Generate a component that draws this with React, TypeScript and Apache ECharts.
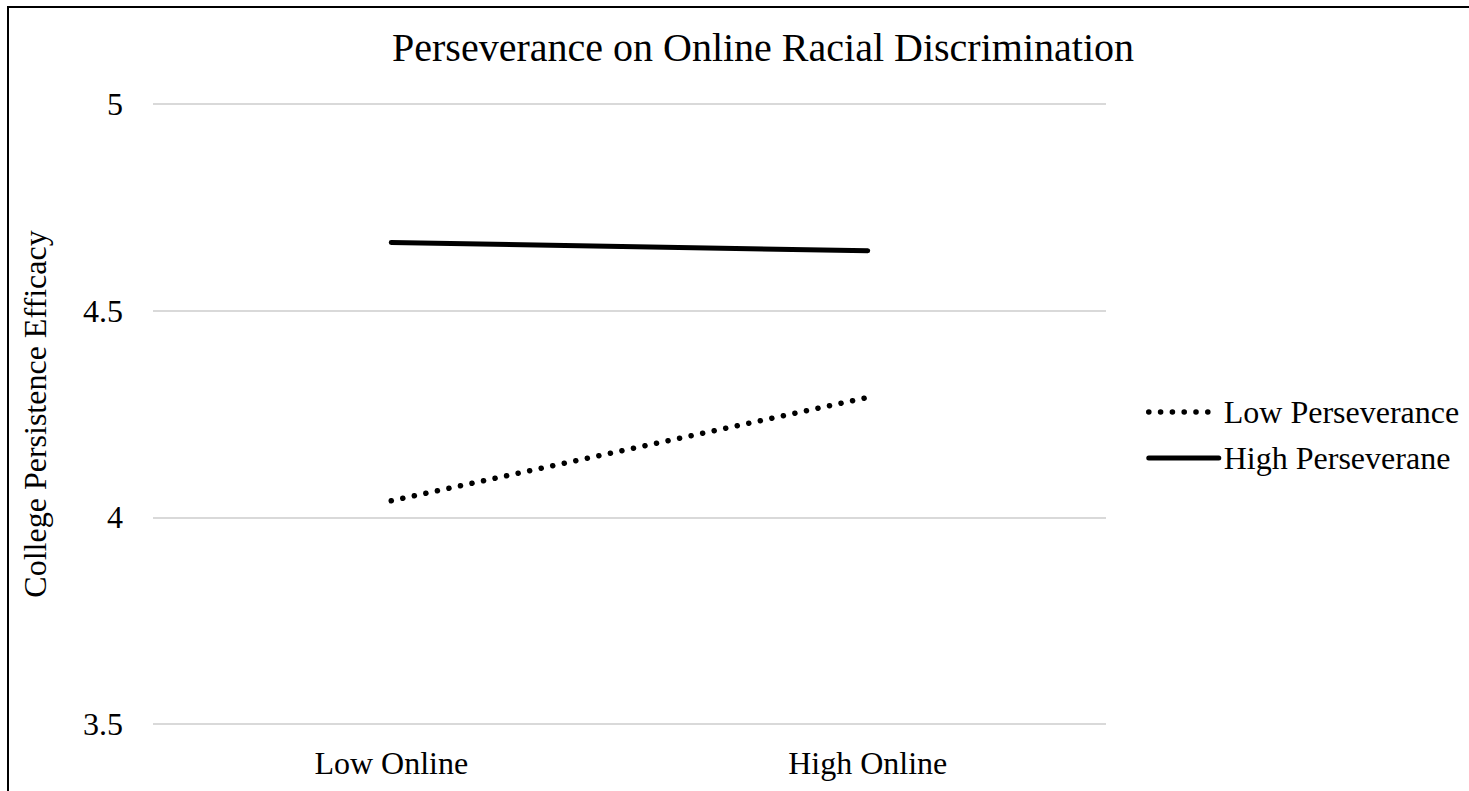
import React, { useEffect, useRef } from "react";
import * as echarts from "echarts";

const categories = ["Low Online", "High Online"];
const lowPerseverance = [4.04, 4.29];
const highPerseverance = [4.665, 4.645];
const yTicks = { min: 3.5, max: 5, interval: 0.5 };
const seriesNames = ["Low Perseverance", "High Perseverane"];
const titleText = "Perseverance on Online Racial Discrimination";
const yAxisName = "College Persistence Efficacy";

const FONT = "'Liberation Serif', 'Times New Roman', serif";
const hiddenSymbol = { color: "rgba(0,0,0,0)", borderColor: "rgba(0,0,0,0)", borderWidth: 0, opacity: 0 };

export default function App() {
  const ref = useRef<HTMLDivElement>(null);
  useEffect(() => {
    document.body.style.margin = "0";
    const chart = echarts.init(ref.current!, null, { renderer: "svg" });
    chart.setOption({
      animation: false,
      backgroundColor: "#ffffff",
      textStyle: { fontFamily: FONT, color: "#000" },
      title: {
        text: titleText,
        left: 758,
        textAlign: "center",
        top: 22,
        textStyle: { fontFamily: FONT, fontSize: 40, fontWeight: "normal", color: "#000" },
      },
      graphic: [
        {
          type: "rect",
          shape: { x: 8, y: 7, width: 3000, height: 3000 },
          style: { fill: "none", stroke: "#000", lineWidth: 2 },
          silent: true,
        },
      ],
      legend: {
        orient: "vertical",
        left: 1141,
        top: 391,
        itemWidth: 70,
        itemHeight: 14,
        itemGap: 14,
        textStyle: { fontFamily: FONT, fontSize: 32, lineHeight: 32, color: "#000" },
        data: [
          {
            name: seriesNames[0],
            itemStyle: hiddenSymbol,
            lineStyle: { color: "#000", width: 5.5, type: [0.1, 11.7], cap: "round" },
          },
          {
            name: seriesNames[1],
            itemStyle: hiddenSymbol,
            lineStyle: { color: "#000", width: 5, type: "solid", cap: "round" },
          },
        ],
      },
      grid: { left: 153, right: 363, top: 104, bottom: 67 },
      xAxis: {
        type: "category",
        data: categories,
        boundaryGap: true,
        axisLine: { show: false },
        axisTick: { show: false },
        axisLabel: { fontFamily: FONT, fontSize: 32, color: "#000", margin: 23 },
      },
      yAxis: {
        type: "value",
        min: yTicks.min,
        max: yTicks.max,
        interval: yTicks.interval,
        name: yAxisName,
        nameLocation: "middle",
        nameGap: 102,
        nameRotate: 90,
        nameTextStyle: { fontFamily: FONT, fontSize: 32, color: "#000" },
        axisLine: { show: false },
        axisTick: { show: false },
        axisLabel: { fontFamily: FONT, fontSize: 32, color: "#000", margin: 30 },
        splitLine: { lineStyle: { color: "#d9d9d9", width: 2 } },
      },
      series: [
        {
          name: seriesNames[0],
          type: "line",
          data: lowPerseverance,
          symbol: "none",
          itemStyle: { color: "#000" },
          lineStyle: { color: "#000", width: 5.5, type: [0.1, 11.7], cap: "round" },
        },
        {
          name: seriesNames[1],
          type: "line",
          data: highPerseverance,
          symbol: "none",
          itemStyle: { color: "#000" },
          lineStyle: { color: "#000", width: 5, type: "solid", cap: "round" },
        },
      ],
    });
    return () => chart.dispose();
  }, []);
  return <div ref={ref} style={{ width: 1469, height: 791 }} />;
}
